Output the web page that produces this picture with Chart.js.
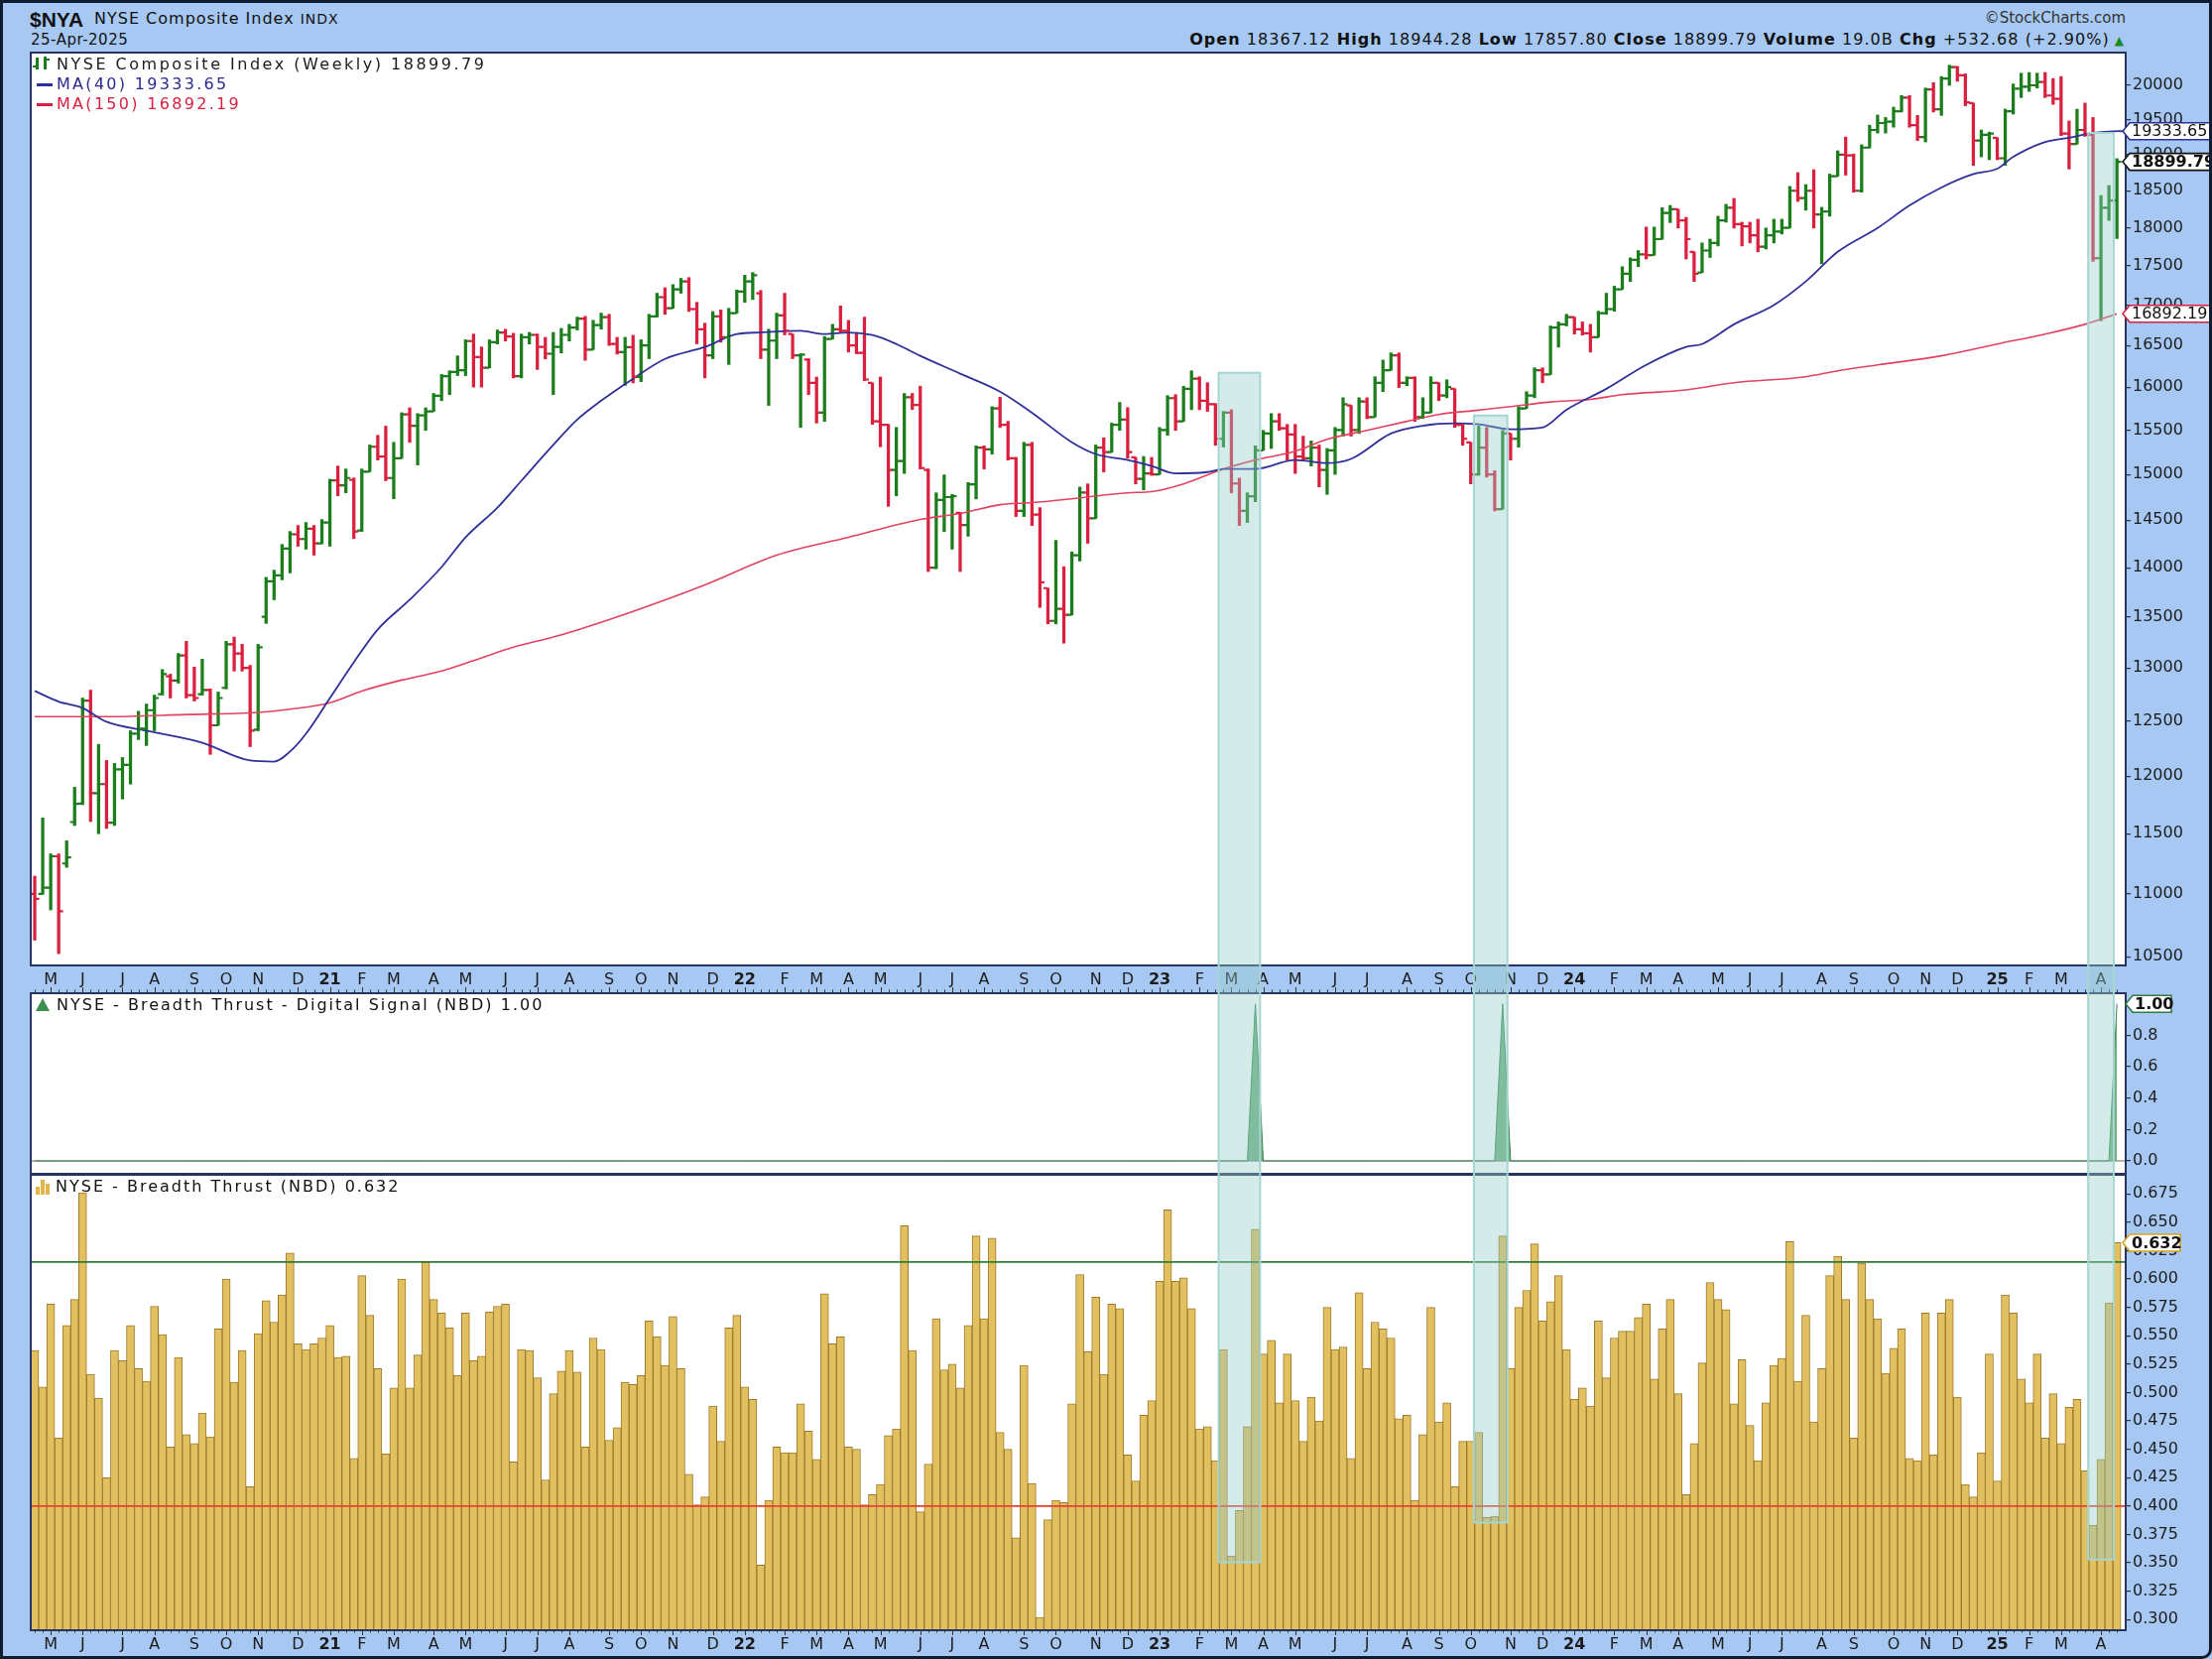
<!DOCTYPE html>
<html>
<head>
<meta charset="utf-8">
<script src="https://cdn.jsdelivr.net/npm/chart.js@4.4.1/dist/chart.umd.min.js"></script>
<style>
  html, body { margin:0; padding:0; }
  body { width:2230px; height:1672px; position:relative; overflow:hidden; background:#a6c8f2; font-family:"DejaVu Sans", sans-serif; color:#111; }
  .frame { position:absolute; left:0; top:0; width:2230px; height:1672px; box-sizing:border-box; border:3px solid #0f1b30; border-bottom-right-radius:10px; pointer-events:none; z-index:20; }
  canvas { position:absolute; left:0; }
  .txt { position:absolute; white-space:nowrap; line-height:20px; z-index:5; }
  .leg { font-size:16px; letter-spacing:2px; }
  .ico { position:absolute; z-index:5; }
</style>
</head>
<body>
<div class="frame"></div>

<!-- header -->
<div class="txt" style="left:30px;top:8px;font:bold 21px 'Liberation Sans', sans-serif;">$NYA</div>
<div class="txt" style="left:95px;top:9px;font-size:16px;letter-spacing:1px;">NYSE Composite Index <span style="font-size:14px;">INDX</span></div>
<div class="txt" style="left:31px;top:30px;font-size:15px;letter-spacing:0.5px;">25-Apr-2025</div>
<div class="txt" style="right:87px;top:8px;font-size:15px;color:#333;">©StockCharts.com</div>
<div class="txt" style="right:88px;top:30px;font-size:16px;letter-spacing:1.05px;">
<b>Open</b> 18367.12 <b>High</b> 18944.28 <b>Low</b> 17857.80 <b>Close</b> 18899.79 <b>Volume</b> 19.0B <b>Chg</b> +532.68 (+2.90%)<span style="color:#1a8a1a;font-size:12px;"> ▲</span></div>

<!-- price legend -->
<div class="ico" style="left:36px;top:58px;width:3px;height:12px;background:#1b7d1b;"></div>
<div class="ico" style="left:33px;top:66px;width:3px;height:2px;background:#1b7d1b;"></div>
<div class="ico" style="left:44px;top:57px;width:3px;height:13px;background:#1b7d1b;"></div>
<div class="ico" style="left:47px;top:59px;width:3px;height:2px;background:#1b7d1b;"></div>
<div class="txt leg" style="left:57px;top:55px;color:#1a1a1a;letter-spacing:2.5px;">NYSE Composite Index (Weekly) 18899.79</div>
<div class="ico" style="left:37px;top:84px;width:16px;height:3px;background:#30309a;"></div>
<div class="txt leg" style="left:57px;top:75px;color:#2a2a90;letter-spacing:2.3px;">MA(40) 19333.65</div>
<div class="ico" style="left:37px;top:104px;width:16px;height:3px;background:#d8203f;"></div>
<div class="txt leg" style="left:57px;top:95px;color:#d8203f;letter-spacing:2.3px;">MA(150) 16892.19</div>

<!-- digital legend -->
<div class="ico" style="left:36px;top:1006px;width:0;height:0;border-left:7px solid transparent;border-right:7px solid transparent;border-bottom:13px solid #3d8f50;"></div>
<div class="txt leg" style="left:57px;top:1003px;">NYSE - Breadth Thrust - Digital Signal (NBD) 1.00</div>

<!-- thrust legend -->
<div class="ico" style="left:36px;top:1196px;width:4px;height:8px;background:#e2b54a;"></div>
<div class="ico" style="left:41px;top:1189px;width:4px;height:15px;background:#e2b54a;"></div>
<div class="ico" style="left:46px;top:1193px;width:4px;height:11px;background:#e2b54a;"></div>
<div class="txt leg" style="left:56px;top:1186px;">NYSE - Breadth Thrust (NBD) 0.632</div>

<canvas id="priceCanvas" width="2230" height="948" style="top:52px;width:2230px;height:948px;"></canvas>
<canvas id="signalCanvas" width="2230" height="183" style="top:1000px;width:2230px;height:183px;"></canvas>
<canvas id="thrustCanvas" width="2230" height="489" style="top:1183px;width:2230px;height:489px;"></canvas>

<script>
// ---------------- DATA ----------------
const firstWeekEnding = Date.UTC(2020, 3, 24);   // Friday of the first weekly bar

const openP = [
11000,11000,11050,11310,11250,11600,11760,12690,11850,11930,
11594,12060,12100,12383,12430,12600,12750,12920,12880,13120,
12740,12750,12790,12460,12810,13229,13140,13000,12420,13500,
13860,13920,14200,14350,14300,14410,14255,14476,14935,14880,
14940,14390,15030,15310,15200,14960,15180,15680,15550,15670,
15715,15897,16130,16180,16200,16554,16360,16230,16540,16660,
16610,16130,16600,16630,16482,16400,16482,16630,16720,16830,
16450,16750,16850,16520,16420,16480,16120,16500,16860,17100,
16960,17200,17300,16950,16700,16380,16860,16600,16900,17170,
17300,17150,16450,16560,16870,16640,16380,16330,16050,15700,
16580,16700,16680,16500,16410,16050,15600,15560,15050,15150,
15880,15790,15050,14000,14720,14750,14580,14450,14890,15300,
15280,15750,15560,15180,14600,15330,14560,13790,13460,13580,
13520,14130,14800,14520,15300,15250,15560,15620,15190,14950,
15010,15000,15500,15870,15600,15980,16100,15840,15800,15400,
15700,14900,14600,14760,15270,15460,15600,15520,15450,15200,
15180,15300,15050,15270,15500,15785,15500,15830,15650,16050,
16200,16380,16050,16110,15650,15700,16050,15900,15980,15560,
15360,15000,15300,15000,14620,15460,15400,15750,15900,16200,
16150,16720,16760,16850,16700,16650,16600,16900,16950,17200,
17400,17580,17650,17640,17850,18200,18250,18100,17683,17415,
17700,17800,18100,18270,18050,18020,17900,17750,17900,17950,
18000,18500,18400,18500,18180,18220,18700,19000,18990,18500,
19100,19350,19450,19470,19620,19820,19420,19250,19940,19650,
20100,20270,20150,19740,19200,19280,19240,18950,19620,19950,
19980,20000,20050,19850,19800,19300,19150,19350,19280,17600,
18270,18367.12];

const highP = [
11145,11635,11330,11330,11440,11902,12714,12788,12286,12140,
12114,12167,12410,12590,12658,12742,12985,12940,13140,13258,
13008,13084,12800,12771,13258,13300,13229,13025,13229,13900,
13975,14243,14380,14444,14476,14444,14508,14947,15093,15060,
14960,15060,15330,15440,15545,15360,15700,15757,15690,15757,
15925,16150,16194,16374,16570,16640,16482,16570,16690,16700,
16650,16640,16660,16640,16600,16660,16710,16760,16850,16860,
16810,16900,16885,16600,16600,16625,16570,16885,17150,17220,
17260,17340,17350,17035,16775,16920,16940,16960,17190,17380,
17415,17185,16700,16900,17150,16640,16400,16340,16120,16610,
16760,16990,16810,16660,16850,16050,16120,15565,15530,15925,
15925,16010,15060,14797,14995,14780,14585,14910,15320,15320,
15770,15880,15600,15190,15360,15360,14636,13790,14286,14010,
14165,14860,14895,15330,15410,15580,15820,15760,15190,15200,
15190,15530,15900,15911,16010,16194,16123,16052,15806,15715,
15735,14960,14797,15320,15496,15690,15690,15565,15565,15430,
15375,15330,15290,15530,15875,15785,15875,15875,16123,16323,
16410,16410,16123,16123,15875,16123,16052,16087,15980,15565,
15360,15545,15530,15040,15496,15460,15771,15946,16230,16230,
16740,16790,16885,16850,16790,16760,16923,17150,17240,17490,
17605,17700,18010,18010,18270,18300,18250,18140,17683,17800,
17850,18155,18315,18396,18075,18075,18115,17997,18115,18115,
18560,18750,18585,18790,18275,18730,19055,19250,19010,19140,
19420,19565,19530,19680,19850,19850,19560,19960,20040,20130,
20300,20280,20170,19740,19350,19320,19240,19650,20020,20180,
20190,20180,20190,20100,20130,19480,19650,19740,19530,18436,
18572,18944.28];

const lowP = [
10630,10997,10870,10524,11218,11570,11750,11604,11500,11545,
11570,11799,11930,12329,12275,12410,12742,12714,12855,12714,
12686,12742,12195,12460,12800,12970,12970,12265,12410,13435,
13672,13875,13946,14224,14193,14130,14250,14224,14765,14797,
14305,14380,15030,15160,14930,14732,15180,15360,15105,15496,
15715,15840,15911,16137,16137,16000,16000,16230,16518,16554,
16110,16110,16518,16210,16337,15911,16410,16554,16690,16320,
16450,16700,16500,16395,16020,16050,16065,16340,16850,16885,
16960,17150,16920,16520,16110,16340,16540,16270,16900,17035,
17070,16340,15785,16340,16630,16340,15530,15911,15580,15600,
16580,16660,16420,16400,16075,15565,15310,14650,14765,15010,
15737,15060,13960,13990,14380,14193,13960,14330,14730,15060,
15226,15530,15160,14540,14540,14444,13594,13430,13430,13240,
13520,14069,14255,14520,15026,15250,15496,15180,14895,14829,
14990,15000,15440,15496,15600,15735,15735,15715,15326,15306,
14797,14444,14476,14700,15270,15290,15496,15160,15010,15160,
15093,14862,14780,15000,15430,15430,15460,15630,15650,15946,
16200,15995,16017,15600,15633,15700,15840,15875,15530,15326,
14895,14990,14970,14600,14620,15160,15306,15750,15875,16052,
16150,16480,16740,16640,16627,16420,16600,16885,16923,17200,
17300,17490,17590,17640,17850,18070,17997,17590,17300,17415,
17610,17760,18075,17997,17760,17800,17683,17720,17800,17918,
18000,18355,18235,17997,17528,18155,18700,18715,18480,18480,
19095,19307,19307,19390,19610,19390,19200,19180,19610,19560,
20000,20060,19700,18850,18970,18930,18930,18850,19580,19820,
19910,19960,19820,19720,19270,18800,19150,19260,17560,16805,
18099,17857.80];

const closeP = [
10960,11050,11310,10860,11300,11757,12690,11850,11930,11594,
12060,12100,12383,12430,12600,12714,12940,12880,13120,12740,
12714,12790,12460,12714,13229,13140,13000,12410,13200,13860,
13920,14200,14350,14300,14410,14255,14476,14935,14880,14960,
14380,15030,15310,15200,14960,15180,15680,15550,15670,15715,
15897,16130,16180,16200,16554,16360,16230,16540,16660,16610,
16130,16600,16630,16482,16400,16482,16630,16720,16830,16450,
16750,16850,16520,16420,16480,16120,16500,16860,17100,16960,
17200,17300,16950,16700,16380,16860,16600,16900,17170,17300,
17380,16450,16560,16870,16680,16380,16390,16050,15700,16580,
16700,16680,16500,16410,16090,15600,15560,15050,15150,15880,
15790,15070,14000,14720,14750,14760,14450,14890,15300,15280,
15750,15560,15180,14600,15330,14560,13850,13460,13580,13520,
14130,14800,14520,15300,15250,15560,15620,15250,14950,15010,
15000,15500,15870,15600,15980,16100,15840,15800,15400,15700,
14900,14600,14760,15270,15460,15600,15520,15450,15200,15180,
15300,15050,15270,15500,15800,15500,15830,15650,16050,16200,
16380,16050,16110,15650,15700,16050,15900,16000,15560,15400,
15000,15300,15000,14620,15460,15400,15750,15900,16200,16150,
16720,16760,16850,16700,16650,16600,16900,16950,17200,17400,
17580,17650,17640,17850,18200,18250,18100,17850,17400,17700,
17800,18100,18270,18050,18020,17900,17750,17900,17950,18000,
18500,18400,18500,18180,18220,18700,19000,18990,18500,19100,
19350,19450,19470,19620,19820,19420,19250,19940,19650,20100,
20270,20150,19750,19200,19280,19300,18950,19620,19950,19980,
20000,20050,19850,19800,19300,19150,19350,19280,17600,18270,
18367.11,18899.79];

const thrustNBD = [
0.537,0.505,0.578,0.460,0.559,0.582,0.676,0.516,0.495,0.425,
0.537,0.528,0.559,0.521,0.510,0.576,0.551,0.452,0.531,0.463,
0.455,0.482,0.461,0.556,0.600,0.509,0.537,0.417,0.552,0.581,
0.562,0.586,0.623,0.543,0.538,0.543,0.548,0.559,0.531,0.532,
0.442,0.603,0.568,0.521,0.446,0.504,0.600,0.504,0.533,0.615,
0.582,0.570,0.557,0.515,0.570,0.528,0.532,0.571,0.576,0.578,
0.439,0.538,0.537,0.513,0.423,0.499,0.519,0.537,0.518,0.452,
0.548,0.538,0.458,0.469,0.509,0.507,0.515,0.563,0.549,0.524,
0.567,0.521,0.428,0.401,0.408,0.488,0.457,0.557,0.568,0.505,
0.494,0.348,0.405,0.452,0.447,0.447,0.490,0.466,0.441,0.587,
0.543,0.549,0.452,0.450,0.401,0.410,0.419,0.462,0.468,0.647,
0.537,0.395,0.437,0.565,0.520,0.525,0.504,0.559,0.638,0.565,
0.636,0.465,0.450,0.372,0.524,0.420,0.302,0.388,0.405,0.403,
0.490,0.604,0.536,0.584,0.516,0.578,0.574,0.445,0.422,0.480,
0.493,0.598,0.661,0.598,0.601,0.574,0.468,0.470,0.440,0.538,
0.356,0.396,0.470,0.644,0.534,0.546,0.491,0.534,0.493,0.457,
0.496,0.475,0.575,0.538,0.540,0.442,0.588,0.521,0.562,0.556,
0.548,0.477,0.480,0.405,0.463,0.575,0.474,0.491,0.417,0.457,
0.457,0.465,0.390,0.391,0.638,0.521,0.575,0.590,0.631,0.563,
0.580,0.603,0.538,0.494,0.504,0.488,0.563,0.513,0.548,0.554,
0.554,0.566,0.578,0.512,0.556,0.582,0.499,0.410,0.455,0.526,
0.597,0.582,0.573,0.490,0.529,0.471,0.440,0.491,0.524,0.530,
0.633,0.510,0.568,0.474,0.521,0.603,0.620,0.582,0.460,0.614,
0.582,0.565,0.517,0.539,0.556,0.442,0.440,0.570,0.445,0.570,
0.582,0.496,0.419,0.408,0.447,0.534,0.422,0.586,0.570,0.512,
0.491,0.534,0.460,0.499,0.455,0.487,0.494,0.431,0.383,0.441,
0.579,0.632];

const signalWeeks = [153, 184, 261];           // weeks where the digital signal = 1

const ma40Weeks  = [0,3,6,9,14,21,27,30,32,34,37,40,43,47,51,54,58,61,65,68,71,75,79,84,88,91,96,99,102,105,108,111,116,121,125,130,133,137,140,143,147,149,153,158,162,165,170,174,178,181,185,189,192,197,202,207,209,213,218,222,226,231,235,239,243,246,248,252,255,258,261];
const ma40Values = [12780,12680,12620,12493,12410,12300,12140,12130,12221,12383,12714,13055,13375,13672,14007,14318,14636,14930,15330,15620,15840,16100,16337,16482,16640,16660,16680,16640,16660,16627,16518,16374,16160,15946,15700,15360,15226,15160,15093,15010,15026,15060,15060,15160,15126,15173,15460,15550,15577,15565,15510,15530,15735,15980,16265,16482,16518,16760,17000,17300,17683,17997,18300,18545,18730,18804,18970,19180,19240,19307,19333.65];

const ma150Weeks  = [0,9,19,28,32,37,41,46,51,55,60,65,68,75,84,93,102,111,116,121,125,130,137,140,144,149,153,158,162,167,172,176,181,185,190,195,199,207,213,222,226,231,239,246,252,257,261];
const ma150Values = [12540,12540,12560,12580,12610,12670,12780,12884,12970,13070,13200,13300,13370,13555,13823,14130,14318,14508,14572,14668,14690,14732,14797,14810,14895,15060,15160,15260,15394,15496,15600,15680,15730,15771,15825,15855,15911,15967,16052,16123,16194,16265,16374,16518,16640,16760,16892.19];

const priceTicks  = [10500,11000,11500,12000,12500,13000,13500,14000,14500,15000,15500,16000,16500,17000,17500,18000,18500,19000,19500,20000];
const thrustTicks = [0.300,0.325,0.350,0.375,0.400,0.425,0.450,0.475,0.500,0.525,0.550,0.575,0.600,0.625,0.650,0.675];
const signalTicks = [0, 0.2, 0.4, 0.6, 0.8];
const thrustLevels = [0.615, 0.400];           // green upper / red lower reference levels

// highlighted zones (first/last week, top in price, bottom in thrust)
const boxFirstWeek   = [149, 181, 258];
const boxLastWeek    = [153, 184, 260];
const boxTopPrice    = [16170, 15668, 19308];
const boxBottomThrust= [0.3505, 0.3854, 0.3528];

const lastClose = 18899.79, lastMA40 = 19333.65, lastMA150 = 16892.19, lastSignal = 1.00, lastThrust = 0.632;
const monthLetters = ['J','F','M','A','M','J','J','A','S','O','N','D'];

// --------------- derived tables ---------------
const N = closeP.length;
const monthTickWeeks = [], monthTickLabels = [];
{
  let prevM = null;
  for (let i = 0; i < N; i++) {
    const monday = new Date(firstWeekEnding + (i * 7 - 4) * 864e5);
    const m = monday.getUTCMonth();
    if (i > 0 && m !== prevM) {
      monthTickWeeks.push(i);
      monthTickLabels.push(m === 0 ? String(monday.getUTCFullYear()).slice(2) : monthLetters[m]);
    }
    prevM = m;
  }
}
const isUp = closeP.map((c, i) => i === 0 ? c >= openP[0] : c >= closeP[i - 1]);
const signalData = closeP.map((_, i) => ({ x: i, y: signalWeeks.includes(i) ? 1 : 0 }));

// --------------- styling ---------------
const GREEN = '#1b7d1b', RED = '#d8203f', NAVY = '#30309a', MA150C = '#e0435e';
const FRAME = '#27345f';
const X_MIN = -0.5, X_MAX = 262.1;
Chart.defaults.font.family = "'DejaVu Sans', sans-serif";
Chart.defaults.font.size = 16;
Chart.defaults.color = '#1a1a1a';

function labelFor(v) { const k = monthTickWeeks.indexOf(v); return k >= 0 ? monthTickLabels[k] : ''; }
function isYear(v) { return /\d/.test(labelFor(v)); }

function makeX(display, height, labels) {
  return {
    type: 'linear', min: X_MIN, max: X_MAX, offset: false, display: display,
    afterBuildTicks(s) { s.ticks = monthTickWeeks.map(v => ({ value: v })); },
    afterFit(s) { s.height = height; s.paddingLeft = 0; s.paddingRight = 0; },
    ticks: {
      display: labels, autoSkip: false, maxRotation: 0, minRotation: 0, padding: 5, color: '#1c1c1c',
      font: (c) => ({ family: "'DejaVu Sans', sans-serif", size: 16, weight: (c.tick && isYear(c.tick.value)) ? 'bold' : 'normal' }),
      callback: (v) => labelFor(v)
    },
    grid: { display: false, drawOnChartArea: false, drawTicks: false },
    border: { display: false }
  };
}
function makeY(extra) {
  return Object.assign({
    position: 'right',
    afterFit(s) { s.width = 87; s.paddingTop = 0; s.paddingBottom = 0; },
    grid: { drawOnChartArea: false, drawTicks: true, tickLength: 5, color: '#333', lineWidth: 1.2 },
    border: { display: false }
  }, extra);
}

function drawTag(ctx, xTip, xRight, y, text, border, bold) {
  const h = 17;
  ctx.save();
  ctx.beginPath();
  ctx.moveTo(xTip, y);
  ctx.lineTo(xTip + 7, y - h / 2);
  ctx.lineTo(xRight, y - h / 2);
  ctx.lineTo(xRight, y + h / 2);
  ctx.lineTo(xTip + 7, y + h / 2);
  ctx.closePath();
  ctx.fillStyle = '#fff'; ctx.fill();
  ctx.lineWidth = 1.6; ctx.strokeStyle = border; ctx.stroke();
  ctx.font = (bold ? 'bold ' : '') + "16px 'DejaVu Sans', sans-serif";
  ctx.fillStyle = '#111'; ctx.textBaseline = 'middle'; ctx.textAlign = 'left';
  ctx.fillText(text, xTip + 9, y + 1);
  ctx.restore();
}

const whiteArea = {
  id: 'whiteArea',
  beforeDraw(chart) {
    const { ctx, chartArea: a } = chart;
    ctx.save(); ctx.fillStyle = '#ffffff';
    ctx.fillRect(a.left, a.top, a.right - a.left, a.bottom - a.top);
    ctx.restore();
  }
};

function framePlugin(opts) {
  return {
    id: 'frame',
    afterDraw(chart) {
      const { ctx, chartArea: a, scales: { x } } = chart;
      ctx.save();
      ctx.strokeStyle = FRAME; ctx.lineWidth = 2;
      ctx.strokeRect(a.left, a.top + 1, a.right - a.left, a.bottom - a.top - 1);
      if (opts.weekTicks) {
        ctx.strokeStyle = '#333'; ctx.lineWidth = 1;
        for (let i = 0; i < N; i++) {
          const px = Math.round(x.getPixelForValue(i)) + 0.5;
          const major = monthTickWeeks.includes(i);
          const len = major ? 5 : 2.5;
          ctx.beginPath();
          if (opts.weekTicks === 'up') { ctx.moveTo(px, chart.height); ctx.lineTo(px, chart.height - len); }
          else { ctx.moveTo(px, a.bottom); ctx.lineTo(px, a.bottom + len); }
          ctx.stroke();
        }
      }
      ctx.restore();
    }
  };
}

function boxPlugin(mode) {
  return {
    id: 'boxes',
    afterDraw(chart) {
      const { ctx, scales: { x, y } } = chart;
      ctx.save();
      boxFirstWeek.forEach((f, k) => {
        const x0 = x.getPixelForValue(f - 0.6), x1 = x.getPixelForValue(boxLastWeek[k] + 0.6);
        let y0 = 0, y1 = chart.height;
        if (mode === 'price') y0 = y.getPixelForValue(boxTopPrice[k]);
        if (mode === 'thrust') y1 = y.getPixelForValue(boxBottomThrust[k]);
        ctx.fillStyle = 'rgba(150,205,200,0.40)';
        ctx.fillRect(x0, y0, x1 - x0, y1 - y0);
        ctx.strokeStyle = '#a6d5d2'; ctx.lineWidth = 2;
        ctx.beginPath();
        ctx.moveTo(x0, y1); ctx.lineTo(x0, y0);
        if (mode === 'price') ctx.lineTo(x1, y0); else ctx.moveTo(x1, y0);
        ctx.lineTo(x1, y1);
        if (mode === 'thrust') ctx.lineTo(x0, y1);
        ctx.stroke();
      });
      ctx.restore();
    }
  };
}

// ---------------- PRICE CHART ----------------
const ohlcTicks = {
  id: 'ohlcTicks',
  afterDatasetsDraw(chart) {
    const { ctx, chartArea: a, scales: { x, y } } = chart;
    ctx.save();
    ctx.beginPath(); ctx.rect(a.left, a.top, a.right - a.left, a.bottom - a.top); ctx.clip();
    ctx.lineWidth = 2.2;
    for (let i = 0; i < N; i++) {
      const px = x.getPixelForValue(i);
      const yo = y.getPixelForValue(openP[i]), yc = y.getPixelForValue(closeP[i]);
      ctx.strokeStyle = isUp[i] ? GREEN : RED;
      ctx.beginPath();
      ctx.moveTo(px - 4.5, yo); ctx.lineTo(px, yo);
      ctx.moveTo(px, yc); ctx.lineTo(px + 4.5, yc);
      ctx.stroke();
    }
    ctx.restore();
  }
};
const priceTags = {
  id: 'priceTags',
  afterDraw(chart) {
    const { ctx, chartArea: a, scales: { x, y } } = chart;
    ctx.save();
    ctx.lineWidth = 1.8; ctx.strokeStyle = NAVY;
    ctx.beginPath(); ctx.moveTo(x.getPixelForValue(N - 1), y.getPixelForValue(lastMA40)); ctx.lineTo(a.right, y.getPixelForValue(lastMA40)); ctx.stroke();
    ctx.restore();
    drawTag(ctx, a.right - 3, chart.width + 4, y.getPixelForValue(lastMA40), lastMA40.toFixed(2), NAVY, false);
    drawTag(ctx, a.right - 3, chart.width + 4, y.getPixelForValue(lastClose), lastClose.toFixed(2), '#111', true);
    drawTag(ctx, a.right - 3, chart.width + 4, y.getPixelForValue(lastMA150), lastMA150.toFixed(2), RED, false);
  }
};

new Chart(document.getElementById('priceCanvas'), {
  data: {
    datasets: [
      { type: 'line', label: 'MA(40)', data: ma40Weeks.map((w, k) => ({ x: w, y: ma40Values[k] })),
        borderColor: NAVY, borderWidth: 1.8, pointRadius: 0, cubicInterpolationMode: 'monotone', order: 0 },
      { type: 'line', label: 'MA(150)', data: ma150Weeks.map((w, k) => ({ x: w, y: ma150Values[k] })),
        borderColor: MA150C, borderWidth: 1.6, pointRadius: 0, cubicInterpolationMode: 'monotone', order: 0 },
      { type: 'bar', label: 'NYA', data: highP.map((h, i) => ({ x: i, y: [lowP[i], h] })),
        backgroundColor: (c) => isUp[c.dataIndex] ? GREEN : RED, barThickness: 2.6, order: 1 }
    ]
  },
  options: {
    responsive: false, animation: false, devicePixelRatio: 1, events: [],
    layout: { padding: { left: 31, right: 0, top: 0, bottom: 0 } },
    plugins: { legend: { display: false }, tooltip: { enabled: false } },
    scales: {
      x: makeX(true, 27, true),
      y: makeY({
        type: 'logarithmic', min: 10433, max: 20505,
        afterBuildTicks(s) { s.ticks = priceTicks.map(v => ({ value: v })); },
        ticks: { autoSkip: false, padding: 2, color: '#1c1c1c', font: { size: 16 }, callback: (v) => String(v) }
      })
    }
  },
  plugins: [whiteArea, ohlcTicks, framePlugin({ weekTicks: 'up' }), boxPlugin('price'), priceTags]
});

// ---------------- DIGITAL SIGNAL ----------------
const signalExtras = {
  id: 'signalExtras',
  beforeDatasetsDraw(chart) {
    const { ctx, chartArea: a, scales: { y } } = chart;
    ctx.save(); ctx.strokeStyle = '#9a9a9a'; ctx.lineWidth = 1.5;
    const y0 = y.getPixelForValue(0);
    ctx.beginPath(); ctx.moveTo(a.left, y0); ctx.lineTo(a.right, y0); ctx.stroke(); ctx.restore();
  },
  afterDraw(chart) {
    const { ctx, chartArea: a, scales: { y } } = chart;
    drawTag(ctx, a.right, a.right + 46, y.getPixelForValue(lastSignal), lastSignal.toFixed(2), '#2f7d45', true);
  }
};
new Chart(document.getElementById('signalCanvas'), {
  data: {
    datasets: [
      { type: 'line', label: 'Digital Signal', data: signalData, fill: 'origin',
        backgroundColor: 'rgba(88,165,108,0.85)', borderColor: '#3a8a50', borderWidth: 1, pointRadius: 0, tension: 0 }
    ]
  },
  options: {
    responsive: false, animation: false, devicePixelRatio: 1, events: [],
    layout: { padding: { left: 31, right: 0, top: 0, bottom: 0 } },
    plugins: { legend: { display: false }, tooltip: { enabled: false } },
    scales: {
      x: makeX(false, 0, false),
      y: makeY({
        type: 'linear', min: -0.082, max: 1.074,
        afterBuildTicks(s) { s.ticks = signalTicks.map(v => ({ value: v })); },
        ticks: { autoSkip: false, padding: 2, color: '#1c1c1c', font: { size: 16 }, callback: (v) => v.toFixed(1) }
      })
    }
  },
  plugins: [whiteArea, framePlugin({}), boxPlugin('signal'), signalExtras]
});

// ---------------- BREADTH THRUST ----------------
const thrustTag = {
  id: 'thrustTag',
  afterDraw(chart) {
    const { ctx, chartArea: a, scales: { y } } = chart;
    drawTag(ctx, a.right - 3, a.right + 55, y.getPixelForValue(lastThrust), lastThrust.toFixed(3), '#d9a21e', true);
  }
};
new Chart(document.getElementById('thrustCanvas'), {
  data: {
    datasets: [
      { type: 'line', label: 'upper', data: [{ x: X_MIN, y: thrustLevels[0] }, { x: X_MAX, y: thrustLevels[0] }],
        borderColor: '#2e7d32', borderWidth: 1.6, pointRadius: 0, order: 0 },
      { type: 'line', label: 'lower', data: [{ x: X_MIN, y: thrustLevels[1] }, { x: X_MAX, y: thrustLevels[1] }],
        borderColor: '#e8412f', borderWidth: 1.6, pointRadius: 0, order: 0 },
      { type: 'bar', label: 'Breadth Thrust', data: thrustNBD.map((v, i) => ({ x: i, y: v })),
        backgroundColor: '#e2bf5f', borderColor: '#9c7b2c', borderWidth: 1,
        barPercentage: 1, categoryPercentage: 1, order: 1 }
    ]
  },
  options: {
    responsive: false, animation: false, devicePixelRatio: 1, events: [],
    layout: { padding: { left: 31, right: 0, top: 0, bottom: 0 } },
    plugins: { legend: { display: false }, tooltip: { enabled: false } },
    scales: {
      x: makeX(true, 29, true),
      y: makeY({
        type: 'linear', min: 0.2906, max: 0.6927,
        afterBuildTicks(s) { s.ticks = thrustTicks.map(v => ({ value: v })); },
        ticks: { autoSkip: false, padding: 2, color: '#1c1c1c', font: { size: 16 }, callback: (v) => v.toFixed(3) }
      })
    }
  },
  plugins: [whiteArea, framePlugin({ weekTicks: 'down' }), boxPlugin('thrust'), thrustTag]
});
</script>
</body>
</html>
